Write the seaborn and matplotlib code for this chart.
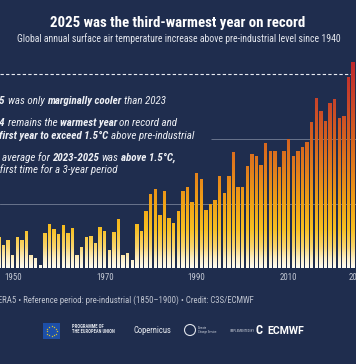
import numpy as np
import pandas as pd
import matplotlib
matplotlib.use('Agg')
import matplotlib.pyplot as plt
import seaborn as sns
from matplotlib.colors import LinearSegmentedColormap
from matplotlib.path import Path
from matplotlib.patches import PathPatch, Rectangle, Circle
from matplotlib.transforms import IdentityTransform

# ERA5 global surface air temperature, increase above 1850-1900 (degC)
years = list(range(1940, 2026))
temps = [0.37, 0.40, 0.33, 0.35, 0.44, 0.36, 0.21,               # 1940-1946 (off the crop)
         0.24, 0.18, 0.22,                                        # 1947-1949
         0.10, 0.24, 0.22, 0.29, 0.10, 0.08, 0.02, 0.27, 0.34, 0.30,  # 1950s
         0.26, 0.33, 0.27, 0.31, 0.10, 0.16, 0.24, 0.25, 0.19, 0.32,  # 1960s
         0.29, 0.14, 0.28, 0.38, 0.10, 0.12, 0.06, 0.34, 0.29, 0.44,  # 1970s
         0.57, 0.61, 0.41, 0.60, 0.39, 0.35, 0.44, 0.60, 0.63, 0.51,  # 1980s
         0.74, 0.69, 0.45, 0.50, 0.53, 0.71, 0.58, 0.71, 0.90, 0.63,  # 1990s
         0.63, 0.79, 0.88, 0.87, 0.80, 0.97, 0.91, 0.91, 0.78, 0.91,  # 2000s
         1.00, 0.87, 0.91, 0.94, 0.98, 1.13, 1.32, 1.22, 1.14, 1.28,  # 2010s
         1.31, 1.16, 1.18, 1.48, 1.60, 1.47]                          # 2020-2025
tick_years = [1950, 1970, 1990, 2010, 2025]
grid_levels = [0.5, 1.0]
limit_level = 1.5

df = pd.DataFrame({'year': years, 'anomaly': temps})

BG = '#1f2d4e'
FONT = ['Roboto Condensed', 'Barlow Condensed', 'DejaVu Sans']

W, H = 356, 364
fig = plt.figure(figsize=(W / 100, H / 100), dpi=100)
fig.patch.set_facecolor(BG)

# axes wider than the figure: the chart is cropped at both sides
x_left, px_per_year = 1947.24, 4.6
ax_w = 370
ax = fig.add_axes([0, 96 / H, ax_w / W, 213 / H])
ax.set_facecolor(BG)

sns.barplot(data=df, x='year', y='anomaly', native_scale=True, width=0.76,
            color='white', ax=ax, zorder=3)

ymax = 213 / 129
x_right = x_left + ax_w / px_per_year

# gradient fill coloured by height, clipped to the bars
cmap = LinearSegmentedColormap.from_list('heat', [
    (0.00, '#fffcf2'), (0.04, '#fdefc8'), (0.10, '#f9d46a'), (0.18, '#f7bf22'),
    (0.30, '#f0a216'), (0.45, '#e3801c'), (0.60, '#d5631f'), (0.78, '#c9452a'),
    (1.00, '#bf242d')])
paths = []
for bar in ax.patches:
    paths.append(bar.get_path().transformed(bar.get_patch_transform()))
    bar.set_visible(False)
clip = PathPatch(Path.make_compound_path(*paths), transform=ax.transData,
                 facecolor='none', edgecolor='none')
ax.add_patch(clip)
grad = np.linspace(0, 1, 400).reshape(-1, 1)
im = ax.imshow(grad, cmap=cmap, origin='lower', aspect='auto', zorder=3,
               extent=[x_left, x_right, 0, ymax])
im.set_clip_path(clip)
ax.set_xlim(x_left, x_right)
ax.set_ylim(0, ymax)

# reference lines
ax.axhline(grid_levels[0], color='#8a93a8', lw=0.6, alpha=0.8, zorder=1)
ax.hlines(grid_levels[1], 1993.1, 2030, color='#8a93a8', lw=0.6, alpha=0.8, zorder=1)
ax.axhline(limit_level, color='#e8ebf2', lw=0.8, ls=(0, (3, 2)), zorder=1)
ax.axhline(0, color='#d9dde6', lw=0.7, zorder=4)

for s in ax.spines.values():
    s.set_visible(False)
ax.set_yticks([])
ax.set_xticks(tick_years)
ax.set_xticklabels([str(y) for y in tick_years], color='#c3c8d4',
                   fontsize=6.4, family=FONT)
ax.tick_params(axis='x', length=0, pad=3.5)
ax.set_xlabel('')
ax.set_ylabel('')

# titles
fig.text(W / 2, H - 26.7, '2025 was the third-warmest year on record', transform=IdentityTransform(),
         ha='center', va='baseline', color='white', fontsize=10.7, fontweight='bold', family=FONT)
fig.text(W / 2 + 1, H - 41.7, 'Global annual surface air temperature increase above pre-industrial level since 1940',
         transform=IdentityTransform(), ha='center', va='baseline', color='#e4e7ee',
         fontsize=7.0, family=FONT)

# annotation block (mixed bold / regular italic)
renderer = fig.canvas.get_renderer()


def rich(x, y, parts, size=7.9, color='#eef0f5'):
    probe1 = fig.text(0, 0, 'x x', fontsize=size, style='italic', family=FONT)
    probe2 = fig.text(0, 0, 'xx', fontsize=size, style='italic', family=FONT)
    space = probe1.get_window_extent(renderer).width - probe2.get_window_extent(renderer).width
    probe1.remove()
    probe2.remove()
    for txt, bold in parts:
        t = fig.text(x, H - y, txt, transform=IdentityTransform(), ha='left', va='baseline',
                     fontsize=size, style='italic', fontweight='bold' if bold else 'normal',
                     color=color, family=FONT)
        x += t.get_window_extent(renderer).width + space


x0 = -16.5
rich(x0, 104, [('2025', True), ('was only', False), ('marginally cooler', True), ('than 2023', False)])
rich(x0, 125.7, [('2024', True), ('remains the', False), ('warmest year', True), ('on record and', False)])
rich(x0, 139, [('the', False), ('first year to exceed 1.5°C', True), ('above pre-industrial', False)])
rich(x0, 161, [('The', False), ('average for', False), ('2023-2025', True), ('was', False), ('above 1.5°C,', True)])
rich(x0, 173.3, [('the first time for a 3-year period', False)])

# source line
fig.text(-22, H - 302.7, 'Data: ERA5 • Reference period: pre-industrial (1850–1900) • Credit: C3S/ECMWF',
         transform=IdentityTransform(), ha='left', va='baseline', color='#bfc4d0',
         fontsize=6.3, family=FONT)

# logo strip
fig.patches.append(Rectangle((43, H - 339), 17, 16, transform=IdentityTransform(),
                             facecolor='#1d4fa8', edgecolor='none'))
ang = np.linspace(0, 2 * np.pi, 13)[:-1]
fig.lines.append(plt.Line2D(51.5 + 5 * np.cos(ang), H - 331 + 5 * np.sin(ang), transform=IdentityTransform(),
                            ls='none', marker='*', ms=1.6, color='#f2d21b', mec='none'))
fig.text(72, H - 327.5, 'PROGRAMME OF', transform=IdentityTransform(), fontsize=3.3,
         fontweight='bold', color='#dfe3ea', family=FONT, va='baseline')
fig.text(72, H - 333, 'THE EUROPEAN UNION', transform=IdentityTransform(), fontsize=3.3,
         fontweight='bold', color='#dfe3ea', family=FONT, va='baseline')
fig.text(133, H - 333, 'Copernicus', transform=IdentityTransform(), fontsize=6.2,
         color='#e6e9ef', family=FONT, va='baseline')
fig.patches.append(Circle((190, H - 330), 5.5, transform=IdentityTransform(),
                          facecolor='none', edgecolor='#dfe3ea', lw=0.8))
fig.text(198, H - 330, 'Climate\nChange Service', transform=IdentityTransform(), fontsize=2.2,
         color='#c6cbd6', family=FONT, va='center')
fig.text(230, H - 331.5, 'IMPLEMENTED BY', transform=IdentityTransform(), fontsize=2.4,
         color='#c6cbd6', family=FONT, va='baseline')
fig.text(255, H - 334, 'C', transform=IdentityTransform(), fontsize=9, fontweight='bold',
         color='white', family=FONT, va='baseline')
fig.text(267, H - 334, 'ECMWF', transform=IdentityTransform(), fontsize=7.6, fontweight='bold',
         color='white', family=['Roboto', 'DejaVu Sans'], va='baseline')

fig.savefig('out.png', dpi=100, facecolor=BG)
